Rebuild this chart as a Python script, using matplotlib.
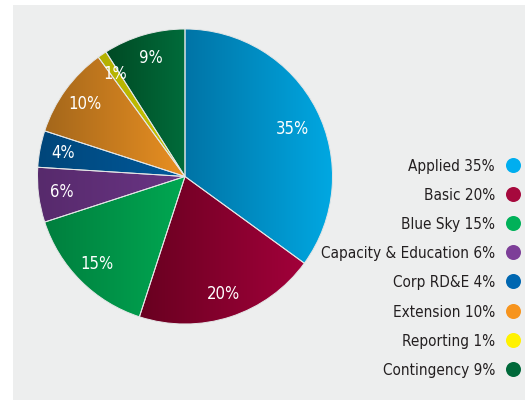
import numpy as np
import matplotlib
matplotlib.use("Agg")
import matplotlib.pyplot as plt
from matplotlib.colors import LinearSegmentedColormap
from matplotlib.lines import Line2D
from matplotlib.patches import Rectangle

plt.rcParams["font.family"] = ["DejaVu Sans"]
plt.rcParams["font.stretch"] = "condensed"

# ── Data ─────────────────────────────────────────────────────────────────
categories = ["Applied", "Basic", "Blue Sky", "Capacity & Education",
              "Corp RD&E", "Extension", "Reporting", "Contingency"]
shares = [35, 20, 15, 6, 4, 10, 1, 9]

# slice gradients (left dark -> right light) and legend dot colours
grad_dark  = ["#0074A6", "#680020", "#007F3E", "#572A6C", "#00467A", "#A4671B", "#B3B000", "#004A24"]
grad_light = ["#00A8E2", "#A2003A", "#00A852", "#6A3585", "#005A9C", "#EA9022", "#C9C600", "#006C3B"]
dot_colors = ["#00AEEF", "#A6093D", "#00B159", "#7D3F98", "#0067B1", "#F7941D", "#FFF200", "#00693A"]

TEXT_DARK = "#231F20"
BG = "#EDEEEE"

fig = plt.figure(figsize=(5.25, 4.11), dpi=100)
fig.patch.set_facecolor("white")
fig.add_artist(Rectangle((13 / 525, 11 / 411), 1 - 13 / 525, 395 / 411,
                         transform=fig.transFigure, facecolor=BG, edgecolor="none", zorder=-10))

# pie: centre (185,176.5) px, radius 147.5 px
ax = fig.add_axes([37.5 / 525, 87 / 411, 295 / 525, 295 / 411])
ax.set_facecolor("none")
wedges, _, autotexts = ax.pie(shares, startangle=90, counterclock=False, radius=1,
                              autopct="%d%%", pctdistance=0.84,
                              wedgeprops=dict(edgecolor="#E4E6E6", linewidth=0.7),
                              textprops=dict(color="white", fontsize=12))
ax.set_xlim(-1, 1)
ax.set_ylim(-1, 1)
ax.set_aspect("equal")
ax.axis("off")

for w, c0, c1 in zip(wedges, grad_dark, grad_light):
    w.set_clip_on(False)
    ext = w.get_path().get_extents()
    cmap = LinearSegmentedColormap.from_list("g", [c0, c1])
    grad = np.linspace(0, 1, 256).reshape(1, -1)
    im = ax.imshow(grad, cmap=cmap, aspect="auto", interpolation="bicubic",
                   extent=[ext.x0, ext.x1, ext.y0, ext.y1], zorder=w.get_zorder() - 0.1)
    im.set_clip_path(w)
    w.set_facecolor("none")

ax.set_xlim(-1, 1)
ax.set_ylim(-1, 1)
for t in autotexts:
    t.set_zorder(5)
# 35% label sits a little closer to the centre in the original
autotexts[0].set_position((0.73, 0.32))

# ── Legend (right-aligned labels, dot on the right) ──────────────────────
for i, (cat, s, col) in enumerate(zip(categories, shares, dot_colors)):
    y = 165 + i * 29.1
    fig.text(495 / 525, 1 - (y + 6) / 411, f"{cat} {s}%", ha="right", va="baseline",
             fontsize=11, color=TEXT_DARK)
    fig.add_artist(Line2D([513 / 525], [1 - y / 411], marker="o", markersize=10.8,
                          markerfacecolor=col, markeredgecolor="none", linestyle="none",
                          transform=fig.transFigure))

fig.savefig("out.png", dpi=100)
